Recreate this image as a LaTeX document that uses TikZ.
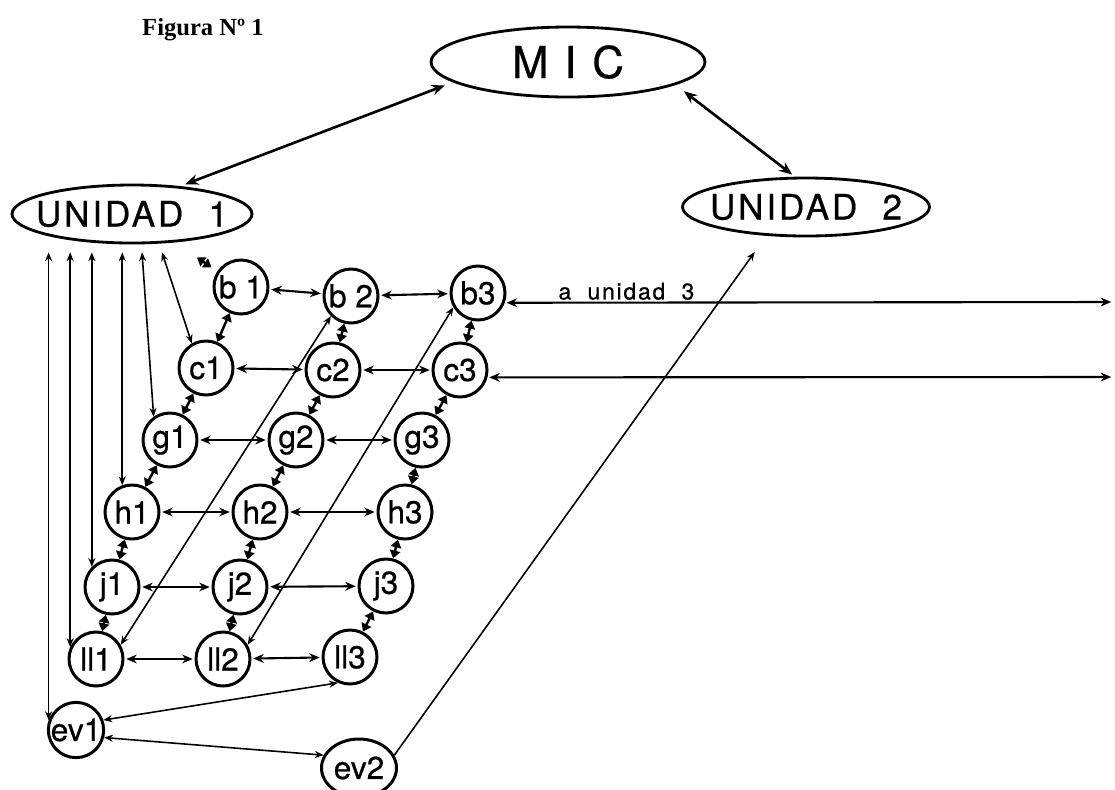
\documentclass[tikz,border=0pt]{standalone}
\usepackage{fontspec}
\setmainfont{Liberation Serif}
\newfontfamily\labfont[LetterSpace=8, FakeBold=0.6]{TeX Gyre Heros}
\newfontfamily\nodfont[FakeBold=0.6]{TeX Gyre Heros}
\usetikzlibrary{arrows.meta, calc, shapes.geometric}
\tikzset{%
    nodo/.style={circle, draw, line width=1.7pt, minimum size=1.08cm, inner sep=0pt, font=\nodfont\fontsize{18}{18}\selectfont},
    unid/.style={ellipse, draw, line width=1.6pt, inner xsep=-0.3cm, inner ysep=0pt, font=\labfont\fontsize{20}{20}\selectfont},
    lin/.style={line width = 0.9pt},
    lina/.style={line width = 0.9pt, -{Stealth[length=5pt, width=4pt]}},
    linda/.style={line width = 0.9pt, {Stealth[length=5pt, width=4pt]}-{Stealth[length=5pt, width=4pt]}},
    horda/.style={line width = 1.2pt, {Stealth[length=6pt, width=5pt]}-{Stealth[length=6pt, width=5pt]}, shorten <=1pt, shorten >=1pt},
    gruda/.style={line width = 1.5pt, {Stealth[length=7.5pt, width=6pt]}-{Stealth[length=7.5pt, width=6pt]}},
    romb/.style={line width = 1.4pt, {Triangle[length=4.5pt, width=6pt]}-{Triangle[length=4.5pt, width=6pt]}},
}

\begin{document}
\begin{tikzpicture}[x=0.02cm, y=-0.02cm]
    \useasboundingbox (0,0) rectangle (1115,789);
    % titulo y unidades
    \node[font=\bfseries\fontsize{14}{14}\selectfont] (fig) at (203,30) {Figura Nº 1};
    \node[unid, minimum width=5.48cm, minimum height=1.4cm, font=\labfont\fontsize{25}{25}\selectfont] (MIC) at (568,62) {M I C};
    \node[unid, minimum width=4.8cm, minimum height=1.16cm] (U1) at (132,214) {UNIDAD\ \ 1};
    \node[unid, minimum width=4.94cm, minimum height=1.16cm] (U2) at (806,207) {UNIDAD\ \ 2};
    % nodos
    \node[nodo] (b1) at (241,287) {b 1};
    \node[nodo] (b2) at (351,296) {b 2};
    \node[nodo] (b3) at (478,293) {b3};
    \node[nodo] (c1) at (206,368) {c1};
    \node[nodo] (c2) at (333,370) {c2};
    \node[nodo] (c3) at (460,370) {c3};
    \node[nodo] (g1) at (170,440) {g1};
    \node[nodo] (g2) at (296,440) {g2};
    \node[nodo] (g3) at (422,440) {g3};
    \node[nodo] (h1) at (132,512) {h1};
    \node[nodo] (h2) at (260,512) {h2};
    \node[nodo] (h3) at (405,512) {h3};
    \node[nodo] (j1) at (112,587) {j1};
    \node[nodo] (j2) at (240,587) {j2};
    \node[nodo] (j3) at (386,586) {j3};
    \node[nodo] (ll1) at (96,659) {ll1};
    \node[nodo] (ll2) at (223,659) {ll2};
    \node[nodo] (ll3) at (350,657) {ll3};
    \node[nodo] (ev1) at (76,730) {ev1};
    \node[nodo, ellipse, minimum width=1.5cm, minimum height=1.16cm, inner xsep=-0.3cm] (ev2) at (359,768) {ev2};
    \coordinate (u3) at (1113,302);
    \coordinate (u3c) at (1113,377);
    % MIC
    \draw [gruda, shorten <=3pt, shorten >=5pt] (U1.30) -- (MIC.190);
    \draw [gruda, shorten <=6pt, shorten >=2pt] (MIC.-12) -- (U2.110);
    % UNIDAD 1 hacia abajo
    \draw [linda] ($(U1.south -| ev1.160)+(0,8)$) -- (ev1.160);
    \draw [linda] ($(U1.south -| ll1.155)+(0,8)$) -- (ll1.155);
    \draw [linda] ($(U1.south -| j1.north west)+(0,8)$) -- (j1.north west);
    \draw [linda] ($(U1.south -| h1.110)+(0,8)$) -- (h1.110);
    \draw [linda] ($(U1.south)+(10,8)$) -- (g1.125);
    \draw [linda] ($(U1.south)+(30,8)$) -- (c1.120);
    \draw [romb, shorten <=0.54cm, shorten >=0.14cm] (U1) -- (b1);
    % horizontales
    \draw [horda] (b1) -- (b2);
    \draw [horda] (b2) -- (b3);
    \draw [horda] (c1) -- (c2);
    \draw [horda] (c2) -- (c3);
    \draw [horda] (g1) -- (g2);
    \draw [horda] (g2) -- (g3);
    \draw [horda] (h1) -- (h2);
    \draw [horda] (h2) -- (h3);
    \draw [horda] (j1) -- (j2);
    \draw [horda] (j2) -- (j3);
    \draw [horda] (ll1) -- (ll2);
    \draw [horda] (ll2) -- (ll3);
    % columnas
    \draw [romb] (b1) -- (c1);
    \draw [romb] (c1) -- (g1);
    \draw [romb] (g1) -- (h1);
    \draw [romb] (h1) -- (j1);
    \draw [romb] (j1) -- (ll1);
    \draw [romb] (b2) -- (c2);
    \draw [romb] (c2) -- (g2);
    \draw [romb] (g2) -- (h2);
    \draw [romb] (h2) -- (j2);
    \draw [romb] (j2) -- (ll2);
    \draw [romb] (b3) -- (c3);
    \draw [romb] (c3) -- (g3);
    \draw [romb] (g3) -- (h3);
    \draw [romb] (h3) -- (j3);
    \draw [romb] (j3) -- (ll3);
    % diagonales largas
    \draw [linda] (ll1.30) -- (b2.225);
    \draw [linda] (ll2.30) -- (b3.210);
    \draw [linda] (ev1.20) -- (ll3.245);
    \draw [linda] (ev1.-15) -- (ev2.160);
    \draw [lina, shorten >=0.4cm] (ev2.20) -- (U2.216);
    % hacia unidad 3
    \draw [horda] (b3.-20) -- node[pos=0.2, above, inner sep=1pt, font=\labfont\fontsize{13}{13}\selectfont] (lab) {a\ \ unidad\ \ 3} (u3);
    \draw [horda] (c3.-15) -- (u3c);
\end{tikzpicture}
\end{document}
